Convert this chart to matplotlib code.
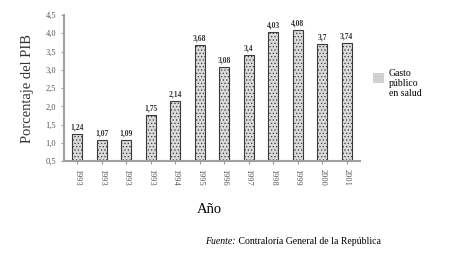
import matplotlib.pyplot as plt
from matplotlib.patches import Rectangle

years = ['1993', '1993', '1993', '1993', '1994', '1995', '1996', '1997',
         '1998', '1999', '2000', '2001']
gasto = [1.24, 1.07, 1.09, 1.75, 2.14, 3.68, 3.08, 3.4, 4.03, 4.08, 3.7, 3.74]
labels = ['1,24', '1,07', '1,09', '1,75', '2,14', '3,68', '3,08', '3,4',
          '4,03', '4,08', '3,7', '3,74']
yticks = [0.5, 1.0, 1.5, 2.0, 2.5, 3.0, 3.5, 4.0, 4.5]

plt.rcParams['font.family'] = ['Liberation Serif', 'DejaVu Serif']
plt.rcParams['hatch.color'] = '#b8b8b8'
plt.rcParams['hatch.linewidth'] = 0.5

fig = plt.figure(figsize=(4.53, 2.59), dpi=100)
ax = fig.add_axes([0.141, 0.378, 0.654, 0.564])

x = list(range(len(years)))
ax.bar(x, [v - 0.5 for v in gasto], bottom=0.5, width=0.42,
       color='#dadada', edgecolor='#3a3a3a', linewidth=0.8, hatch='.....')

for xi, v, lab in zip(x, gasto, labels):
    ax.text(xi, v + 0.07, lab, ha='center', va='bottom', fontsize=5.5,
            fontweight='bold', color='#333333')

ax.set_ylim(0.5, 4.5)
ax.set_xlim(-0.55, len(years) - 0.45)
ax.set_yticks(yticks)
ax.set_yticklabels([f'{t:.1f}'.replace('.', ',') for t in yticks], fontsize=6,
                   color='#555555')
ax.set_xticks(x)
ax.set_xticklabels(years, rotation=-90, fontsize=6, color='#555555')
ax.tick_params(length=2, color='#999999', width=0.8)

for s in ['top', 'right']:
    ax.spines[s].set_visible(False)
for s in ['left', 'bottom']:
    ax.spines[s].set_color('#a0a0a0')
    ax.spines[s].set_linewidth(1.5)

ax.set_ylabel('Porcentaje del PIB', fontsize=10.5, color='#333333', labelpad=8)
fig.text(0.463, 0.19, 'Año', ha='center', va='center', fontsize=10.5)

fig.text(0.52, 0.068, ' Contraloría General de la República', ha='left',
         va='center', fontsize=7)
fig.text(0.52, 0.068, 'Fuente:', ha='right', va='center', fontsize=7,
         style='italic')

# legend
fig.patches.append(Rectangle((0.823, 0.685), 0.022, 0.035,
                             transform=fig.transFigure, facecolor='#d2d2d2',
                             edgecolor='#c8c8c8', hatch='.....', linewidth=0.5))
fig.text(0.858, 0.735, 'Gasto\npúblico\nen salud', ha='left', va='top',
         fontsize=7, linespacing=1.15)

fig.savefig('out.png', dpi=100)
